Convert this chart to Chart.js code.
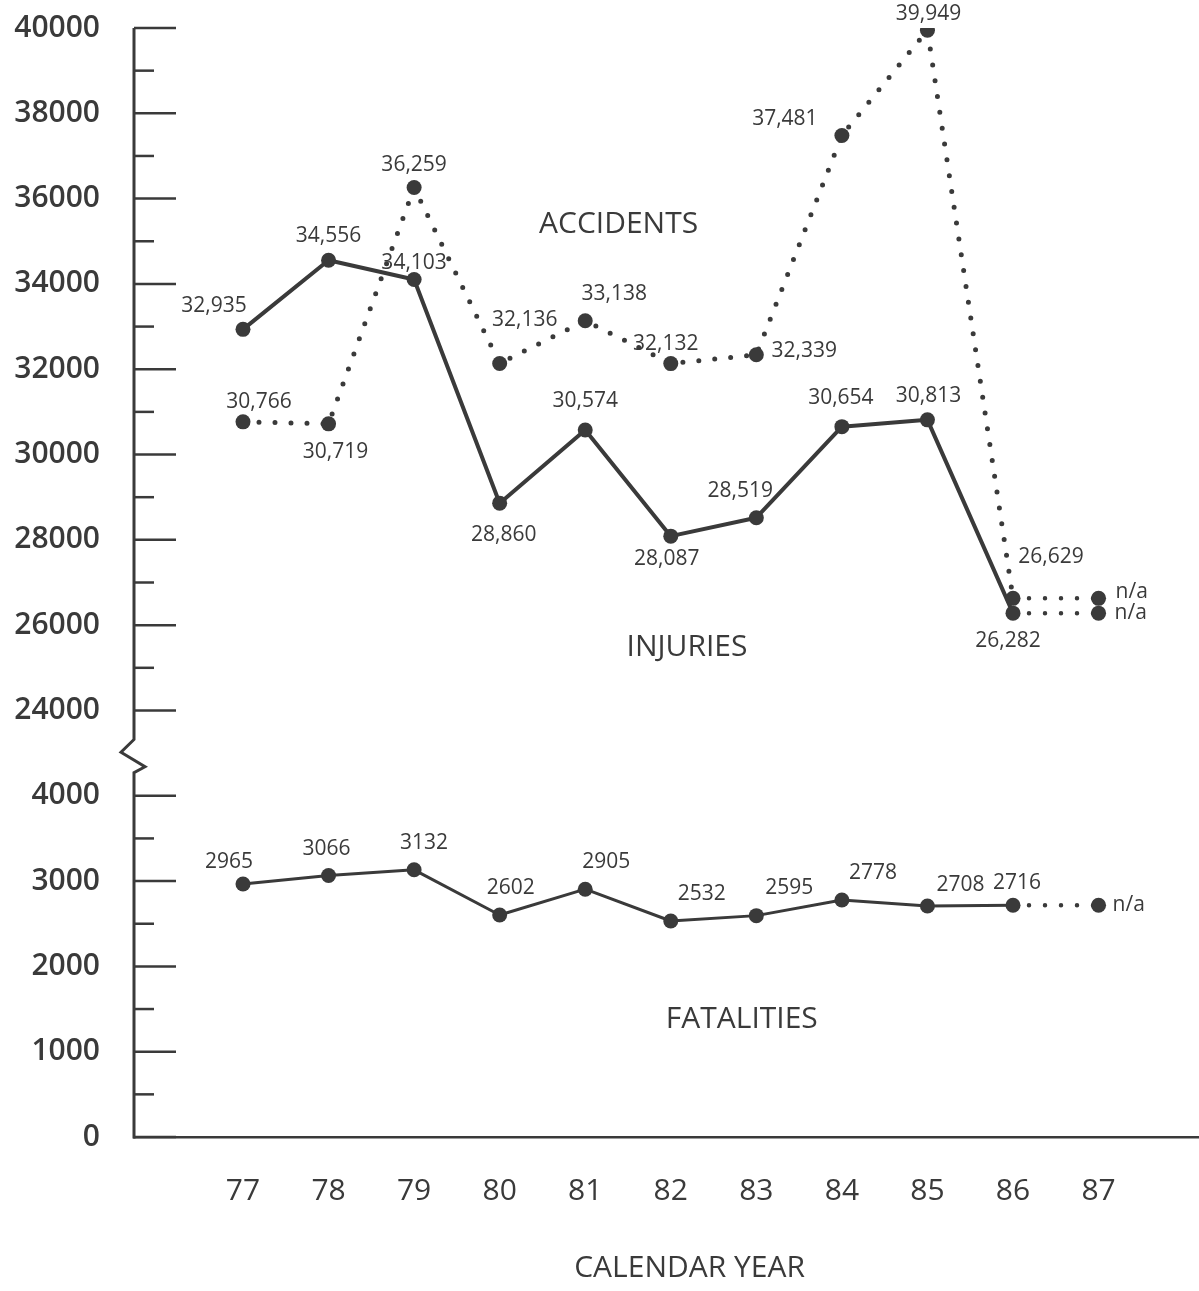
<!DOCTYPE html>
<html><head><meta charset="utf-8">
<script src="https://cdn.jsdelivr.net/npm/chart.js@4.4.0/dist/chart.umd.min.js"></script>
<style>html,body{margin:0;padding:0;background:#fff;}</style>
</head><body>
<canvas id="c" width="1199" height="1291"></canvas>
<script>
// ---------- data ----------
const years = [77, 78, 79, 80, 81, 82, 83, 84, 85, 86, 87];
const accidents  = [30766, 30719, 36259, 32136, 33138, 32132, 32339, 37481, 39949, 26629, null];
const injuries   = [32935, 34556, 34103, 28860, 30574, 28087, 28519, 30654, 30813, 26282, null];
const fatalities = [2965, 3066, 3132, 2602, 2905, 2532, 2595, 2778, 2708, 2716, null];
// broken y axis: lower part 0-4000, upper part 24000-40000
const yTickValues = [0, 1000, 2000, 3000, 4000, 24000, 26000, 28000, 30000, 32000, 34000, 36000, 38000, 40000];
const breakAfterIndex = 4; // axis is broken between 4000 and 24000
const seriesNames = ['ACCIDENTS', 'INJURIES', 'FATALITIES'];
const axisTitleX = 'CALENDAR YEAR';
const naText = 'n/a';

// ---------- layout / style (not data) ----------
const INK = '#3a3a3a';
const FONT = '"Open Sans", "DejaVu Sans", sans-serif';
// label offsets (px) relative to each point
const accOffsets = [[16,-20],[7,28],[0,-23],[25,-43],[29,-27],[-5,-20],[48,-4],[-57,-16],[1,-16],[38,-41],[32,-6]];
const injOffsets = [[-29,-23],[0,-24],[0,-17],[4,32],[0,-29],[-4,23],[-16,-27],[-1,-29],[1,-24],[-5,28],[31,0]];
const fatOffsets = [[-14,-22],[-2,-26],[10,-27],[11,-27],[21,-27],[31,-27],[33,-28],[31,-27],[33,-21],[4,-22],[29,0]];
// name annotation anchors in data units (year, value)
const nameAnchors = [[81.39, 35400], [82.19, 25466], [82.83, 1383]];
const axisTitleAnchorX = 82.22;

// value -> position on the broken axis (piecewise linear over the tick list)
function toAxis(val) {
  for (let i = 0; i < yTickValues.length - 1; i++) {
    const a = yTickValues[i], b = yTickValues[i + 1];
    if (val >= a && val <= b) return i + (val - a) / (b - a);
  }
  return yTickValues.length - 1;
}
// n/a points are drawn at the level of the last known value
function plotted(arr) {
  let last = null;
  return arr.map((v, i) => {
    if (v !== null) last = v;
    return { x: years[i], y: toAxis(v !== null ? v : last) };
  });
}
const isNA = (arr, i) => arr[i] === null;

function lineDataset(arr, opts) {
  return Object.assign({
    data: plotted(arr),
    borderColor: INK,
    backgroundColor: INK,
    pointBackgroundColor: INK,
    pointBorderWidth: 0,
    pointRadius: 7.5,
    pointHoverRadius: 7.5,
    tension: 0,
    borderCapStyle: 'round',
    borderJoinStyle: 'round',
    fill: false,
    segment: {
      borderDash: c => isNA(arr, c.p1DataIndex) ? [0, 16] : undefined,
      borderWidth: c => isNA(arr, c.p1DataIndex) ? 4.5 : undefined
    }
  }, opts);
}

const series = [
  { arr: accidents, offs: accOffsets, comma: true },
  { arr: injuries, offs: injOffsets, comma: true },
  { arr: fatalities, offs: fatOffsets, comma: false }
];

const decorations = {
  id: 'decorations',
  afterDraw(chart) {
    const { ctx, scales: { x, y } } = chart;
    const ax = chart.chartArea.left;
    ctx.save();
    ctx.strokeStyle = INK;
    // broken y axis line
    const yTop = y.getPixelForValue(yTickValues.length - 1);
    const yBot = y.getPixelForValue(0);
    const yHi = y.getPixelForValue(breakAfterIndex + 1);
    const yLo = y.getPixelForValue(breakAfterIndex);
    const g = yLo - yHi;
    ctx.lineWidth = 3;
    ctx.lineJoin = 'miter';
    ctx.beginPath();
    ctx.moveTo(ax, yTop);
    ctx.lineTo(ax, yHi + g * 0.34);
    ctx.lineTo(ax - 13, yHi + g * 0.49);
    ctx.lineTo(ax + 11, yHi + g * 0.66);
    ctx.lineTo(ax, yHi + g * 0.73);
    ctx.lineTo(ax, yBot + 1.5);
    ctx.stroke();
    // tick marks pointing into the plot
    ctx.lineWidth = 2.5;
    for (let i = 0; i < yTickValues.length; i++) {
      const py = y.getPixelForValue(i);
      ctx.beginPath(); ctx.moveTo(ax, py); ctx.lineTo(ax + 42, py); ctx.stroke();
      if (i < yTickValues.length - 1 && i !== breakAfterIndex) {
        const pm = y.getPixelForValue(i + 0.5);
        ctx.beginPath(); ctx.moveTo(ax, pm); ctx.lineTo(ax + 20, pm); ctx.stroke();
      }
    }
    // series name annotations
    ctx.fillStyle = INK;
    ctx.textAlign = 'center';
    ctx.textBaseline = 'middle';
    ctx.font = '30px ' + FONT;
    seriesNames.forEach((n, i) => {
      ctx.fillText(n, x.getPixelForValue(nameAnchors[i][0]), y.getPixelForValue(toAxis(nameAnchors[i][1])));
    });
    // x axis title
    ctx.fillText(axisTitleX, x.getPixelForValue(axisTitleAnchorX), 1268);
    ctx.restore();
  },
  afterDatasetsDraw(chart) {
    const { ctx } = chart;
    ctx.save();
    ctx.fillStyle = INK;
    ctx.textAlign = 'center';
    ctx.textBaseline = 'middle';
    ctx.font = '21px ' + FONT;
    series.forEach((s, di) => {
      const meta = chart.getDatasetMeta(di);
      meta.data.forEach((pt, i) => {
        const v = s.arr[i];
        const txt = v === null ? naText : (s.comma ? v.toLocaleString('en-US') : String(v));
        const [dx, dy] = s.offs[i];
        if (v === null) {
          ctx.textAlign = 'left';
          ctx.fillText(txt, pt.x + dx - 15, pt.y + dy);
          ctx.textAlign = 'center';
        } else {
          ctx.fillText(txt, pt.x + dx, pt.y + dy);
        }
      });
    });
    ctx.restore();
  }
};

new Chart(document.getElementById('c'), {
  type: 'line',
  data: {
    datasets: [
      lineDataset(accidents, { borderWidth: 5, borderDash: [0, 16] }),
      lineDataset(injuries, { borderWidth: 4 }),
      lineDataset(fatalities, { borderWidth: 3 })
    ]
  },
  options: {
    responsive: false,
    animation: false,
    devicePixelRatio: 1,
    layout: { autoPadding: false, padding: { top: 28, left: 0, right: 0, bottom: 0 } },
    plugins: { legend: { display: false }, tooltip: { enabled: false } },
    scales: {
      x: {
        type: 'linear',
        min: 75.726,
        max: 88.174,
        afterBuildTicks: s => { s.ticks = years.map(v => ({ value: v })); },
        afterFit: s => { s.height = 154; s.paddingLeft = 0; s.paddingRight = 0; },
        grid: { display: false, drawTicks: false },
        border: { display: true, color: INK, width: 2.5 },
        ticks: { color: INK, font: { family: FONT, size: 30, weight: 500 }, padding: 36, callback: v => String(v), maxRotation: 0, autoSkip: false }
      },
      y: {
        type: 'linear',
        min: 0,
        max: yTickValues.length - 1,
        afterBuildTicks: s => { s.ticks = yTickValues.map((_, i) => ({ value: i })); },
        afterFit: s => { s.width = 134; s.paddingTop = 0; s.paddingBottom = 0; },
        grid: { display: false, drawTicks: false },
        border: { display: false },
        ticks: { color: INK, font: { family: FONT, size: 30, weight: 600 }, padding: 34, callback: v => String(yTickValues[v]) }
      }
    }
  },
  plugins: [decorations]
});
</script>
</body></html>
